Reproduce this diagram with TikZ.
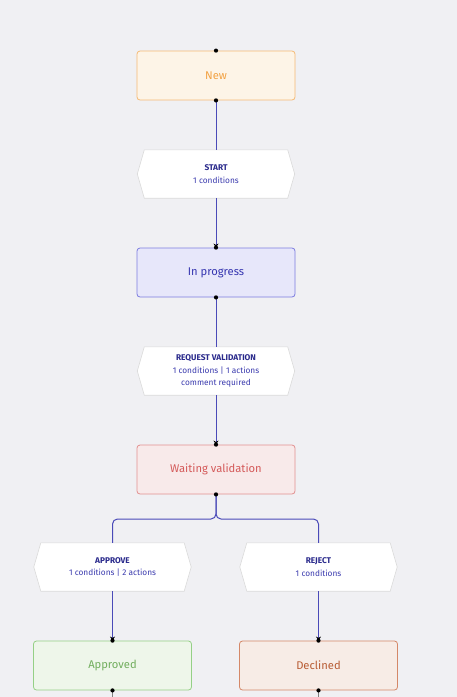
\documentclass[tikz,border=0pt]{standalone}
\usepackage{fontspec}
\setmainfont{Fira Sans}
\usetikzlibrary{arrows.meta}
\definecolor{bg}{HTML}{F0F0F3}
\definecolor{lnk}{HTML}{4A4AB8}
\definecolor{hexb}{HTML}{DADADA}
\definecolor{hext}{HTML}{2A2A8C}
\definecolor{hexs}{HTML}{3A3AAE}
\definecolor{newD}{HTML}{F5BA75}\definecolor{newF}{HTML}{FDF4E7}\definecolor{newT}{HTML}{F2A244}
\definecolor{proD}{HTML}{7C7CE0}\definecolor{proF}{HTML}{E7E7FA}\definecolor{proT}{HTML}{3535B0}
\definecolor{waiD}{HTML}{E29090}\definecolor{waiF}{HTML}{F8EAEA}\definecolor{waiT}{HTML}{D45A5A}
\definecolor{appD}{HTML}{95D086}\definecolor{appF}{HTML}{EEF6EA}\definecolor{appT}{HTML}{72AE5E}
\definecolor{decD}{HTML}{D48868}\definecolor{decF}{HTML}{F7ECE6}\definecolor{decT}{HTML}{B85C34}
\tikzset{
  x=1pt,y=1pt,
  state/.style={rounded corners=3pt, minimum width=158pt, minimum height=49pt, line width=0.8pt, font=\fontsize{11.2}{13}\selectfont, inner sep=0pt},
  snew/.style={state, draw=newD, fill=newF, text=newT},
  sprog/.style={state, draw=proD, fill=proF, text=proT},
  swait/.style={state, draw=waiD, fill=waiF, text=waiT},
  sappr/.style={state, draw=appD, fill=appF, text=appT},
  sdecl/.style={state, draw=decD, fill=decF, text=decT},
  hexnode/.style={minimum width=157pt, minimum height=48pt, inner sep=0pt, align=center, text=hexs, font=\fontsize{8.3}{12.8}\selectfont},
  hexline/.style={draw=hexb, fill=white, line width=0.6pt},
  link/.style={draw=lnk, line width=1pt},
  arr/.style={link, -{Stealth[black,length=4pt,width=5pt]}},
  dot/.style={circle, fill=black, inner sep=0pt, minimum size=4.2pt}
}
\newcommand{\hexdraw}[1]{%
  \draw[hexline] (#1.west) -- ([xshift=7pt]#1.north west) -- ([xshift=-7pt]#1.north east) -- (#1.east) -- ([xshift=-7pt]#1.south east) -- ([xshift=7pt]#1.south west) -- cycle;}
\newcommand{\hdr}[1]{{\bfseries\color{hext}#1}}
\begin{document}
\begin{tikzpicture}
\useasboundingbox[fill=bg] (0,0) rectangle (457,-697);
% hexagon placeholders first
\node[hexnode] (h1) at (216,-174) {};
\node[hexnode] (h2) at (216,-371) {};
\node[hexnode] (h3) at (112.5,-567) {};
\node[hexnode] (h4) at (318.5,-567) {};
\hexdraw{h1}\hexdraw{h2}\hexdraw{h3}\hexdraw{h4}
\node[hexnode] at (h1) {\hdr{START}\\1 conditions};
\node[hexnode] at (h2) {\hdr{REQUEST VALIDATION}\\1 conditions | 1 actions\\comment required};
\node[hexnode] at (h3) {\hdr{APPROVE}\\1 conditions | 2 actions};
\node[hexnode] at (h4) {\hdr{REJECT}\\1 conditions};
% states
\node[snew] (new) at (216,-75.5) {New};
\node[sprog] (prog) at (216,-272.5) {In progress};
\node[swait] (wait) at (216,-469.5) {Waiting validation};
\node[sappr] (appr) at (112.5,-665.5) {Approved};
\node[sdecl] (decl) at (318.5,-665.5) {Declined};
\coordinate (endA) at (112.5,-697);
\coordinate (endD) at (318.5,-697);
% connectors
\draw[link] (new.south) -- (h1.north);
\draw[arr] (h1.south) -- (prog.north);
\draw[link] (prog.south) -- (h2.north);
\draw[arr] (h2.south) -- (wait.north);
\draw[link, rounded corners=5pt] (wait.south) -- (216,-519) -- (112.5,-519) -- (h3.north);
\draw[link, rounded corners=5pt] (wait.south) -- (216,-519) -- (318.5,-519) -- (h4.north);
\draw[arr] (h3.south) -- (appr.north);
\draw[arr] (h4.south) -- (decl.north);
\draw[link, draw=gray] (appr.south) -- (endA);
\draw[link, draw=gray] (decl.south) -- (endD);
% dots
\foreach \n in {new,prog,wait,appr,decl}{
  \node[dot] at (\n.north) {};
  \node[dot] at (\n.south) {};
}
\end{tikzpicture}
\end{document}
